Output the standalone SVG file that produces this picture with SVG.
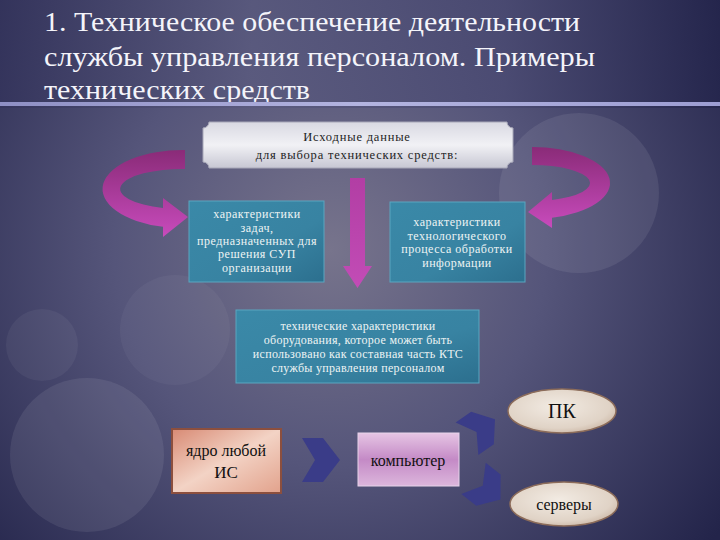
<svg xmlns="http://www.w3.org/2000/svg" width="720" height="540" viewBox="0 0 720 540">
<defs>
<radialGradient id="bg" cx="330" cy="250" r="480" gradientUnits="userSpaceOnUse">
<stop offset="0" stop-color="#77748c"/>
<stop offset="0.45" stop-color="#55557a"/>
<stop offset="1" stop-color="#23244a"/>
</radialGradient>
<linearGradient id="topband" x1="0" y1="0" x2="1" y2="0">
<stop offset="0" stop-color="#34345c"/>
<stop offset="0.35" stop-color="#5a5a7e"/>
<stop offset="0.7" stop-color="#4a4a72"/>
<stop offset="1" stop-color="#24254c"/>
</linearGradient>
<linearGradient id="rule" x1="0" y1="0" x2="1" y2="0">
<stop offset="0" stop-color="#8e8fc4"/>
<stop offset="0.5" stop-color="#b3b4e0"/>
<stop offset="1" stop-color="#9c9dd2"/>
</linearGradient>
<linearGradient id="plaque" x1="0" y1="0" x2="0" y2="1">
<stop offset="0" stop-color="#d9d9e2"/>
<stop offset="0.5" stop-color="#f1f1f5"/>
<stop offset="1" stop-color="#c7c7d3"/>
</linearGradient>
<linearGradient id="teal" x1="0" y1="0" x2="1" y2="1">
<stop offset="0" stop-color="#3a89a8"/>
<stop offset="0.6" stop-color="#3883a2"/>
<stop offset="1" stop-color="#2c6f8e"/>
</linearGradient>
<linearGradient id="mag" x1="0" y1="0" x2="0" y2="1">
<stop offset="0" stop-color="#8a2b78"/>
<stop offset="1" stop-color="#c84bbc"/>
</linearGradient>
<linearGradient id="magdown" x1="0" y1="0" x2="0" y2="1">
<stop offset="0" stop-color="#b23ea4"/>
<stop offset="1" stop-color="#c24cb6"/>
</linearGradient>
<linearGradient id="orange" x1="0" y1="0" x2="1" y2="1">
<stop offset="0" stop-color="#d88a74"/>
<stop offset="0.5" stop-color="#f3d3c5"/>
<stop offset="1" stop-color="#e2a28c"/>
</linearGradient>
<linearGradient id="pink" x1="0" y1="0" x2="0" y2="1">
<stop offset="0" stop-color="#e6c5e4"/>
<stop offset="0.5" stop-color="#c48ac6"/>
<stop offset="1" stop-color="#dcb6dc"/>
</linearGradient>
<radialGradient id="cream" cx="0.45" cy="0.4" r="0.7">
<stop offset="0" stop-color="#f2ebe3"/>
<stop offset="0.7" stop-color="#e0d3c6"/>
<stop offset="1" stop-color="#c4ad9a"/>
</radialGradient>
<polygon id="chev" points="-19,-22 2,-22 19,0 2,22 -19,22 -6,0"/>
<style>
.title{font-family:"Liberation Serif","Times New Roman",serif;font-size:27px;fill:#f4f4fa}
.small{font-family:"Liberation Serif","DejaVu Serif",serif;font-size:12px;letter-spacing:0.5px;text-anchor:middle}
.light{fill:#eef4f4}
.dark{fill:#1e1e24}
.big{font-family:"Liberation Serif","Times New Roman",serif;text-anchor:middle;fill:#111}
.tealbox{fill:url(#teal);stroke:#5aa6c0;stroke-width:1}
.chev{fill:#3a3c88}
.ell{fill:url(#cream);stroke:#8c6c5a;stroke-width:1.5}
</style>
</defs>
<rect width="720" height="540" fill="url(#bg)"/>
<rect width="720" height="108" fill="url(#topband)" opacity="0.85"/>
<circle cx="579" cy="193" r="80" fill="#ffffff" opacity="0.08"/>
<circle cx="87" cy="455" r="77" fill="#ffffff" opacity="0.08"/>
<circle cx="42" cy="345" r="36" fill="#ffffff" opacity="0.05"/>
<circle cx="175" cy="330" r="55" fill="#ffffff" opacity="0.04"/>
<text class="title" x="44" y="31" textLength="536" lengthAdjust="spacingAndGlyphs">1. Техническое обеспечение деятельности</text>
<text class="title" x="44" y="66" textLength="551" lengthAdjust="spacingAndGlyphs">службы управления персоналом. Примеры</text>
<text class="title" x="44" y="99" textLength="266" lengthAdjust="spacingAndGlyphs">технических средств</text>
<rect x="0" y="102" width="720" height="4" fill="url(#rule)"/>
<g id="connectors">
<path d="M185,150 A80,39 0 0 0 163,226.8 L163,237 L188,217 L163,198 L163,208 A62,20 0 0 1 185,169 Z" fill="url(#mag)"/>
<path d="M532,147 A78,36 0 0 1 552,217.8 L552,228 L528,212 L552,192 L552,199.9 A58,18 0 0 0 532,165 Z" fill="url(#mag)"/>
<path d="M350,178 L365,178 L365,266 L372,266 L357.5,288 L343,266 L350,266 Z" fill="url(#magdown)"/>
<use href="#chev" class="chev" transform="translate(321,460)"/>
<use href="#chev" class="chev" transform="translate(481,429) rotate(-35) scale(0.9)"/>
<use href="#chev" class="chev" transform="translate(487,489) rotate(38) scale(0.9)"/>
</g>
<g id="node-plaque">
<path d="M209,122 L507,122 A6,6 0 0 0 513,128 L513,162 A6,6 0 0 0 507,168 L209,168 A6,6 0 0 0 203,162 L203,128 A6,6 0 0 0 209,122 Z" fill="url(#plaque)" stroke="#a8a8b8" stroke-width="1"/>
<text class="small dark" x="357" y="141" style="font-size:12.5px;letter-spacing:0.8px">Исходные данные</text>
<text class="small dark" x="357" y="159" style="font-size:12.5px;letter-spacing:0.8px">для выбора технических средств:</text>
</g>
<g id="node-tasks">
<rect class="tealbox" x="189" y="201" width="135" height="81"/>
<text class="small light" x="257" y="218">характеристики</text>
<text class="small light" x="257" y="232">задач,</text>
<text class="small light" x="257" y="245">предназначенных для</text>
<text class="small light" x="257" y="258">решения СУП</text>
<text class="small light" x="257" y="272">организации</text>
</g>
<g id="node-process">
<rect class="tealbox" x="390" y="202" width="135" height="80"/>
<text class="small light" x="457" y="226">характеристики</text>
<text class="small light" x="457" y="240">технологического</text>
<text class="small light" x="457" y="253">процесса обработки</text>
<text class="small light" x="457" y="267">информации</text>
</g>
<g id="node-equipment">
<rect class="tealbox" x="236" y="310" width="243" height="73"/>
<text class="small light" x="358" y="330" style="letter-spacing:0.3px">технические характеристики</text>
<text class="small light" x="358" y="344" style="letter-spacing:0.3px">оборудования, которое может быть</text>
<text class="small light" x="358" y="358" style="letter-spacing:0.3px">использовано как составная часть КТС</text>
<text class="small light" x="358" y="372" style="letter-spacing:0.3px">службы управления персоналом</text>
</g>
<g id="node-core">
<rect x="172" y="429" width="109" height="64" fill="url(#orange)" stroke="#8c4f3e" stroke-width="2"/>
<text class="big" x="226" y="456" style="font-size:16px">ядро любой</text>
<text class="big" x="226" y="478" style="font-size:17px">ИС</text>
</g>
<g id="node-computer">
<rect x="358" y="433" width="101" height="53" fill="url(#pink)" stroke="#e7d3ea" stroke-width="1"/>
<text class="big" x="408" y="466" style="font-size:16px">компьютер</text>
</g>
<g id="node-pk">
<ellipse class="ell" cx="562" cy="411" rx="54" ry="22"/>
<text class="big" x="562" y="418" style="font-size:20px">ПК</text>
</g>
<g id="node-servers">
<ellipse class="ell" cx="564" cy="504" rx="54" ry="22"/>
<text class="big" x="564" y="510" style="font-size:16px">серверы</text>
</g>
</svg>
